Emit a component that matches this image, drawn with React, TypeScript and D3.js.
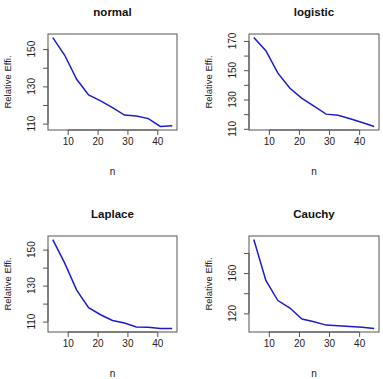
import { useRef, useEffect } from 'react';
import * as d3 from 'd3';

// sample sizes shared by all four panels
const nValues = [5, 9, 13, 17, 21, 25, 29, 33, 37, 41, 45];

const normalEff = [156.2, 146.7, 133.8, 125.4, 122.2, 118.6, 114.6, 114.1, 112.7, 108.5, 108.9];
const logisticEff = [172.3, 163.3, 148.0, 137.7, 130.8, 125.5, 120.0, 119.3, 116.9, 114.3, 111.6];
const laplaceEff = [155.6, 142.5, 127.5, 117.7, 113.8, 110.6, 109.2, 107.0, 106.8, 106.2, 106.2];
const cauchyEff = [193.3, 152.7, 132.7, 125.3, 114.3, 111.7, 108.3, 107.7, 107.0, 106.3, 105.0];

const titles = ['normal', 'logistic', 'Laplace', 'Cauchy'];
const xTicks = [10, 20, 30, 40];
const yTicks = [
  [110, 120, 130, 140, 150],
  [110, 120, 130, 140, 150, 160, 170],
  [110, 120, 130, 140, 150],
  [120, 140, 160, 180],
];
const yTickLabels = [
  [110, 130, 150],
  [110, 130, 150, 170],
  [110, 130, 150],
  [120, 160],
];

const FONT = 'Liberation Sans, Arial, Helvetica, sans-serif';

export default function App() {
  const svgRef = useRef<SVGSVGElement>(null);

  useEffect(() => {
    const svg = d3.select(svgRef.current);
    svg.selectAll('*').remove();

    const series = [normalEff, logisticEff, laplaceEff, cauchyEff];
    // plot boxes: [left, right] columns and [top, bottom] rows
    const cols = [[48, 177], [249, 379]];
    const rows = [[34, 130], [236, 332]];

    series.forEach((vals, i) => {
      const [x0, x1] = cols[i % 2];
      const [y0, y1] = rows[Math.floor(i / 2)];

      // R-style 4% padding on both axes
      const xPad = (d3.max(nValues)! - d3.min(nValues)!) * 0.04;
      const yPad = (d3.max(vals)! - d3.min(vals)!) * 0.04;
      const x = d3.scaleLinear()
        .domain([d3.min(nValues)! - xPad, d3.max(nValues)! + xPad])
        .range([x0, x1]);
      const y = d3.scaleLinear()
        .domain([d3.min(vals)! - yPad, d3.max(vals)! + yPad])
        .range([y1, y0]);

      const g = svg.append('g');

      // box
      g.append('rect')
        .attr('x', x0).attr('y', y0)
        .attr('width', x1 - x0).attr('height', y1 - y0)
        .attr('fill', 'none')
        .attr('stroke', '#555')
        .attr('stroke-width', 1);

      // x axis
      g.append('g')
        .attr('transform', `translate(0,${y1})`)
        .call(d3.axisBottom(x).tickValues(xTicks).tickSize(5).tickPadding(3).tickSizeOuter(0))
        .call(a => a.select('.domain').attr('stroke', '#555')
          .attr('d', `M${x(xTicks[0])},0H${x(xTicks[xTicks.length - 1])}`))
        .call(a => a.selectAll('.tick line').attr('stroke', '#555'))
        .call(a => a.selectAll('.tick text')
          .attr('font-family', FONT).attr('font-size', 10).attr('fill', '#222'));

      // y axis ticks, labels only where R leaves room
      const yt = yTicks[i];
      g.append('g')
        .attr('transform', `translate(${x0},0)`)
        .call(d3.axisLeft(y).tickValues(yt).tickSize(5).tickSizeOuter(0).tickFormat(() => ''))
        .call(a => a.select('.domain').attr('stroke', '#555')
          .attr('d', `M0,${y(yt[0])}V${y(yt[yt.length - 1])}`))
        .call(a => a.selectAll('.tick line').attr('stroke', '#555'));

      g.selectAll('.ylab')
        .data(yTickLabels[i])
        .enter()
        .append('text')
        .attr('transform', d => `translate(${x0 - 16.5},${y(d)}) rotate(-90)`)
        .attr('text-anchor', 'middle')
        .attr('dy', '0.35em')
        .attr('font-family', FONT)
        .attr('font-size', 10)
        .attr('fill', '#222')
        .text(d => d);

      // line
      const line = d3.line<number>()
        .x((_, j) => x(nValues[j]))
        .y(d => y(d));
      g.append('path')
        .datum(vals)
        .attr('d', line)
        .attr('fill', 'none')
        .attr('stroke', '#1c1cd0')
        .attr('stroke-width', 1.5);

      // title and axis labels
      g.append('text')
        .attr('x', (x0 + x1) / 2).attr('y', y0 - 22)
        .attr('dy', '0.35em')
        .attr('text-anchor', 'middle')
        .attr('font-family', FONT)
        .attr('font-size', 11.5)
        .attr('font-weight', 'bold')
        .attr('fill', '#111')
        .text(titles[i]);

      g.append('text')
        .attr('x', (x0 + x1) / 2).attr('y', y1 + 41)
        .attr('dy', '0.35em')
        .attr('text-anchor', 'middle')
        .attr('font-family', FONT)
        .attr('font-size', 10)
        .attr('fill', '#222')
        .text('n');

      g.append('text')
        .attr('transform', `translate(${x0 - 40},${(y0 + y1) / 2}) rotate(-90)`)
        .attr('dy', '0.35em')
        .attr('text-anchor', 'middle')
        .attr('font-family', FONT)
        .attr('font-size', 9.5)
        .attr('fill', '#222')
        .text('Relative Effi.');
    });
  }, []);

  return (
    <svg
      ref={svgRef}
      width={383}
      height={379}
      style={{ position: 'absolute', left: 0, top: 0, background: '#fff' }}
    />
  );
}
